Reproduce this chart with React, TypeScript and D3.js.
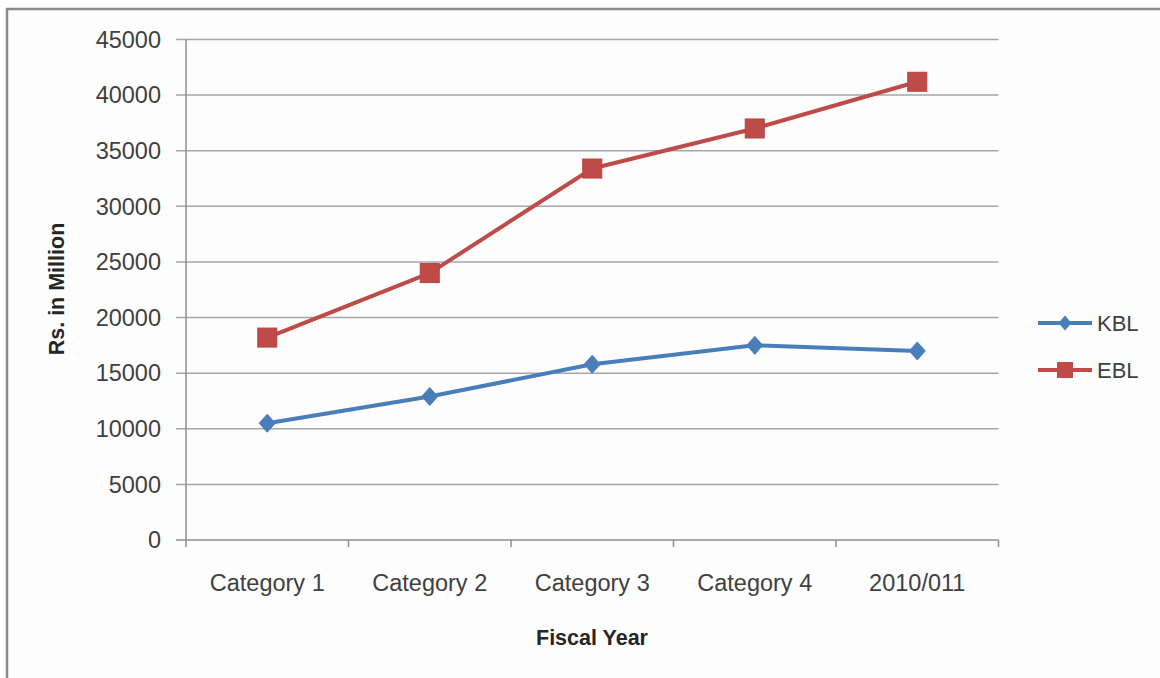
import React from "react";
import * as d3 from "d3";

const categories = ["Category 1", "Category 2", "Category 3", "Category 4", "2010/011"];
const kblValues = [10500, 12900, 15800, 17500, 17000];
const eblValues = [18200, 24000, 33400, 37000, 41200];
const yTicks = [0, 5000, 10000, 15000, 20000, 25000, 30000, 35000, 40000, 45000];
const seriesNames = ["KBL", "EBL"];

const W = 1160;
const H = 678;
const FONT = "'Liberation Sans', Arial, sans-serif";
const TEXT = "#404040";
const BLUE = "#4a7ebb";
const RED = "#be4b48";

export default function App() {
  const x = d3.scaleBand<string>().domain(categories).range([186, 998.5]);
  const y = d3.scaleLinear().domain([0, 45000]).range([540, 39.5]);
  const cx = (c: string) => (x(c) as number) + x.bandwidth() / 2;

  const line = d3
    .line<[string, number]>()
    .x((d) => cx(d[0]))
    .y((d) => y(d[1]));

  const kbl: [string, number][] = categories.map((c, i) => [c, kblValues[i]]);
  const ebl: [string, number][] = categories.map((c, i) => [c, eblValues[i]]);

  const diamond = (hw: number, hh: number) => `M0,${-hh}L${hw},0L0,${hh}L${-hw},0Z`;
  const edges = [...categories.map((c) => x(c) as number), 998.5];

  return (
    <svg
      width={W}
      height={H}
      style={{ position: "absolute", left: 0, top: 0, background: "#fff" }}
      fontFamily={FONT}
    >
      <rect x={0} y={0} width={W} height={H} fill="#fff" />
      <rect x={7} y={9} width={W + 10} height={H + 10} fill="#fdfdfd" stroke="#8a8a8a" strokeWidth={2.5} />

      {/* gridlines */}
      {yTicks.map((t) => (
        <line key={t} x1={176} x2={998.5} y1={y(t)} y2={y(t)} stroke={t === 0 ? "#8c8c8c" : "#a6a6a6"} strokeWidth={1.5} />
      ))}
      {/* y axis */}
      <line x1={186} x2={186} y1={y(45000)} y2={y(0)} stroke="#8c8c8c" strokeWidth={1.5} />
      {/* x ticks */}
      {edges.map((e, i) => (
        <line key={i} x1={e} x2={e} y1={540} y2={547} stroke="#8c8c8c" strokeWidth={1.5} />
      ))}

      {/* y tick labels */}
      {yTicks.map((t) => (
        <text key={t} x={161} y={y(t)} dy="0.35em" textAnchor="end" fontSize={23.5} fill={TEXT}>
          {t}
        </text>
      ))}
      {/* x tick labels */}
      {categories.map((c) => (
        <text key={c} x={cx(c)} y={591} textAnchor="middle" fontSize={23.5} fill={TEXT}>
          {c}
        </text>
      ))}

      {/* axis titles */}
      <text x={592} y={645} textAnchor="middle" fontSize={21.5} fontWeight="bold" fill="#262626">
        Fiscal Year
      </text>
      <text
        transform={`translate(64,289) rotate(-90)`}
        textAnchor="middle"
        fontSize={21.5}
        fontWeight="bold"
        fill="#262626"
      >
        Rs. in Million
      </text>

      {/* series */}
      <path d={line(kbl) || ""} fill="none" stroke={BLUE} strokeWidth={4} strokeLinejoin="round" />
      <path d={line(ebl) || ""} fill="none" stroke={RED} strokeWidth={4} strokeLinejoin="round" />
      {kbl.map((d) => (
        <path key={d[0]} transform={`translate(${cx(d[0])},${y(d[1])})`} d={diamond(8, 9)} fill={BLUE} stroke={BLUE} strokeWidth={1} />
      ))}
      {ebl.map((d) => (
        <rect key={d[0]} x={cx(d[0]) - 9.5} y={y(d[1]) - 9.5} width={19} height={19} fill={RED} stroke="#b54340" strokeWidth={1} />
      ))}

      {/* legend */}
      {seriesNames.map((s, i) => {
        const ly = 323 + i * 47;
        const col = i === 0 ? BLUE : RED;
        return (
          <g key={s}>
            <line x1={1038} x2={1092} y1={ly} y2={ly} stroke={col} strokeWidth={4} />
            {i === 0 ? (
              <path transform={`translate(1065,${ly})`} d={diamond(6.5, 7.5)} fill={col} />
            ) : (
              <rect x={1065 - 8} y={ly - 8} width={16} height={16} fill={col} />
            )}
            <text x={1097} y={ly} dy="0.35em" fontSize={22} fill={TEXT}>
              {s}
            </text>
          </g>
        );
      })}
    </svg>
  );
}
